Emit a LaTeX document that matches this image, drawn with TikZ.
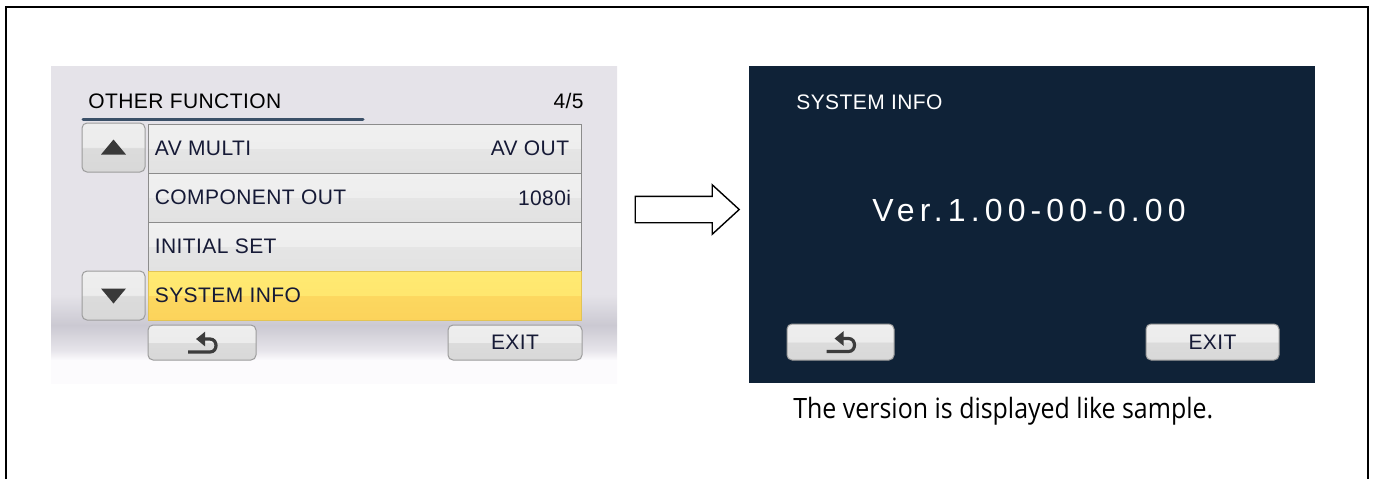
\documentclass[tikz,border=0pt]{standalone}
\usepackage{fontspec}
\setmainfont[LetterSpace=2]{Liberation Sans}
\newfontfamily\capfont[FakeStretch=0.89]{Open Sans}
\newfontfamily\verfont[LetterSpace=16]{Liberation Sans}
\usepackage{tikz}
\usetikzlibrary{positioning, arrows.meta, shapes.arrows}

\definecolor{lcdgray}{HTML}{E5E3E9}
\definecolor{lcddark}{HTML}{CBC9D2}
\definecolor{lcdmid}{HTML}{E6E4EA}
\definecolor{lcdwhite}{HTML}{FCFBFD}
\definecolor{navy}{HTML}{0F2237}
\definecolor{rowup}{HTML}{F0F0F0}
\definecolor{rowlo}{HTML}{E2E2E2}
\definecolor{rowline}{HTML}{8C8C8C}
\definecolor{selup}{HTML}{FFEA72}
\definecolor{sello}{HTML}{FCD35B}
\definecolor{selline}{HTML}{E2C455}
\definecolor{btnup}{HTML}{EEEEEE}
\definecolor{btnlo}{HTML}{D8D8D8}
\definecolor{btnline}{HTML}{9C9C9C}
\definecolor{rowink}{HTML}{161A36}
\definecolor{iconink}{HTML}{3C3C3C}
\definecolor{uline}{HTML}{3B5068}

\pgfdeclareverticalshading{menubg}{100bp}{color(0bp)=(lcdwhite); color(28.6bp)=(lcdwhite);
  color(30.2bp)=(lcdmid); color(34.1bp)=(lcddark); color(39bp)=(lcdgray); color(100bp)=(lcdgray)}
\pgfdeclareverticalshading{rowshade}{100bp}{color(0bp)=(rowlo); color(25bp)=(rowlo);
  color(49.5bp)=(rowlo!80!rowup); color(50.5bp)=(rowup!85!rowlo); color(75bp)=(rowup); color(100bp)=(rowup)}
\pgfdeclareverticalshading{selshade}{100bp}{color(0bp)=(sello); color(25bp)=(sello);
  color(49.5bp)=(sello!80!selup); color(50.5bp)=(selup!85!sello); color(75bp)=(selup); color(100bp)=(selup)}
\pgfdeclareverticalshading{btnshade}{100bp}{color(0bp)=(btnlo); color(25bp)=(btnlo);
  color(49.5bp)=(btnlo!85!btnup); color(50.5bp)=(btnup!90!btnlo); color(75bp)=(btnup); color(100bp)=(btnup)}

\begin{document}
\begin{tikzpicture}[
        x=0.5pt, y=-0.5pt,
        font=\fontsize{10.5}{12}\selectfont,
        % Styles
        outline/.style={% For the page frame
            draw=black,
            line width=1pt,
            },
        lcdmenu/.style={% For the menu screen
            rectangle,
            shade,
            shading=menubg,
            inner sep=0pt,
            minimum width=283pt,
            minimum height=158.5pt,
            },
        lcdinfo/.style={% For the info screen
            rectangle,
            fill=navy,
            inner sep=0pt,
            minimum width=283pt,
            minimum height=158.5pt,
            },
        rowbox/.style={% For the menu lines
            rectangle,
            draw=rowline,
            line width=0.5pt,
            shade,
            shading=rowshade,
            inner sep=0pt,
            minimum width=216.5pt,
            minimum height=24.5pt,
            },
        rowsel/.style={% For the chosen line
            rowbox,
            draw=selline,
            shading=selshade,
            },
        btnbox/.style={% For the touch keys
            rectangle,
            rounded corners=2.5pt,
            draw=btnline,
            line width=0.5pt,
            shade,
            shading=btnshade,
            inner sep=0pt,
            text=rowink,
            },
        hdrtxt/.style={% For the titles
            inner sep=0pt,
            text=black,
            },
        rowtxt/.style={% For the line texts
            inner sep=0pt,
            text=rowink,
            },
        lighttxt/.style={% For text on the dark screen
            inner sep=0pt,
            text=white,
            },
        tri/.style={% For the scroll marks
            fill=iconink!95!black,
            },
        backsign/.pic={% The return mark
            \draw[line width=1.6pt, draw=iconink, -{Triangle[width=7pt,length=4.5pt]}]
                (-14,9.5) -- (8,9.5) .. controls (16,9.5) and (16,-3.5) .. (8,-3.5) -- (-6,-3.5);
            },
        ]

    \useasboundingbox (0,0) rectangle (1375,479);
    \draw [outline] (5.5,479) |- (1368,7) -- (1368,479);

    % Screens
        \node [lcdmenu] (lscreen) at (334,224.5) {};
        \node [lcdinfo] (rscreen) at (1032,224.5) {};

    % Menu screen
        \node [hdrtxt, anchor=base west] (title) at (88,108) {OTHER FUNCTION};
        \node [hdrtxt, anchor=base east] (page) at (584,108) {4/5};
        \draw [uline, line width=1.5pt, line cap=round] (title.south west) ++(-5,11) coordinate (ul) -- ++(280,0);

        % Draw lines named row#
        \node [rowbox] (row1) at (364.5,148.5) {};
        \node [rowbox] (row2) at (364.5,197.5) {};
        \node [rowbox] (row3) at (364.5,246.5) {};
        \node [rowsel] (row4) at (364.5,295.5) {};

        \node [rowtxt, right=3.5pt of row1.west] (avmulti) {AV MULTI};
        \node [rowtxt, left=6pt of row1.east] (avout) {AV OUT};
        \node [rowtxt, right=3.5pt of row2.west] (compout) {COMPONENT OUT};
        \node [rowtxt, left=5pt of row2.east] (res) {1080i};
        \node [rowtxt, right=3.5pt of row3.west] (initset) {INITIAL SET};
        \node [rowtxt, right=3.5pt of row4.west] (sysinfo) {SYSTEM INFO};

        % Keys
        \node [btnbox, minimum width=31.5pt, minimum height=24.5pt] (lup) at (113.5,147.5) {};
        \node [btnbox, minimum width=31.5pt, minimum height=24.5pt] (ldown) at (113.5,295.5) {};
        \fill [tri] (lup.center) ++(-12.5,7) -- ++(25,0) -- ++(-12.5,-15) -- cycle;
        \fill [tri] (ldown.center) ++(-12.5,-7) -- ++(25,0) -- ++(-12.5,15) -- cycle;
        \node [btnbox, minimum width=54pt, minimum height=17.5pt] (lback) at (202,342.5) {};
        \node [btnbox, minimum width=67pt, minimum height=17.5pt] (lexit) at (515,342.5) {EXIT};
        \pic at (lback.center) {backsign};

    % Arrow
        \node [single arrow, draw=black, line width=0.7pt, fill=white, inner xsep=0pt, inner ysep=6.25pt,
               minimum height=52pt, minimum width=24pt, single arrow head extend=5.75pt,
               single arrow tip angle=85] (go) at (680,209.5) {};

    % Info screen
        \node [lighttxt, anchor=base west] (infotitle) at (796,109) {SYSTEM INFO};
        \node [lighttxt, anchor=base, font=\verfont\fontsize{16}{19}\selectfont] (ver) at (1029,221) {Ver.1.00-00-0.00};
        \node [btnbox, minimum width=53.5pt, minimum height=18pt] (rback) at (840.5,342) {};
        \node [btnbox, minimum width=66.5pt, minimum height=18pt] (rexit) at (1212.5,342) {EXIT};
        \pic at (rback.center) {backsign};

        \node [hdrtxt, anchor=base west, font=\capfont\fontsize{14}{17}\selectfont] (note) at (793,418)
            {The version is displayed like sample.};

\end{tikzpicture}
\end{document}
